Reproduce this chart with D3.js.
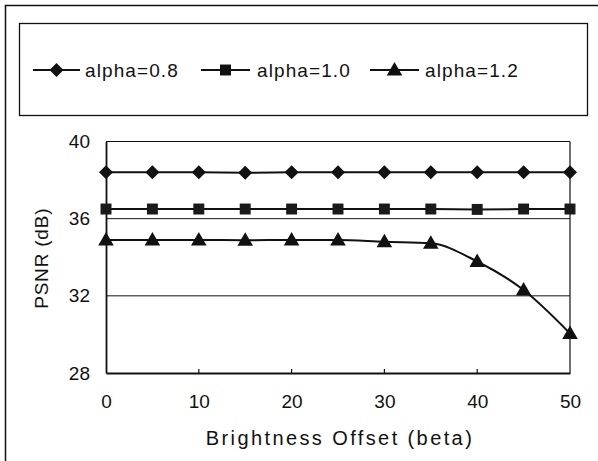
<!DOCTYPE html>
<html><head><meta charset="utf-8">
<script src="https://cdn.jsdelivr.net/npm/d3@7"></script>
<style>
html,body{margin:0;padding:0;background:#fff;}
svg{display:block;}
text{font-family:"Liberation Sans",Arial,sans-serif;fill:#111;}
</style></head>
<body>
<svg id="chart" width="598" height="461"></svg>
<script>
const betaValues = [0,5,10,15,20,25,30,35,40,45,50];
const alpha08 = [38.4,38.4,38.4,38.38,38.4,38.4,38.4,38.4,38.4,38.4,38.4];
const alpha10 = [36.5,36.5,36.5,36.5,36.5,36.5,36.5,36.5,36.48,36.5,36.5];
const alpha12 = [34.9,34.9,34.9,34.88,34.9,34.9,34.8,34.72,33.78,32.3,30.05];
const seriesNames = ["alpha=0.8","alpha=1.0","alpha=1.2"];
const seriesSymbols = ["diamond","square","triangle"];
const yTicks = [28,32,36,40];
const xTickLabels = [0,10,20,30,40,50];
const xMinorTicks = [10,20,30,40];
const yGrid = [32,36];

const svg = d3.select("#chart");
const L = 106, R = 570, T = 141.5, B = 373;
const x = d3.scaleLinear().domain([0,50]).range([L,R]);
const y = d3.scaleLinear().domain([28,40]).range([B,T]);
const FONT = "'Liberation Sans',Arial,sans-serif";

// outer frame (only top and left visible)
svg.append("rect").attr("x",5.5).attr("y",5.5).attr("width",620).attr("height",480)
  .attr("fill","none").attr("stroke","#111").attr("stroke-width",1.5);
// legend box
svg.append("rect").attr("x",19.5).attr("y",23.5).attr("width",568).attr("height",92)
  .attr("fill","none").attr("stroke","#111").attr("stroke-width",1.3);

// gridlines
svg.append("g").selectAll("line").data(yGrid).join("line")
  .attr("x1",L).attr("x2",R).attr("y1",d=>y(d)).attr("y2",d=>y(d))
  .attr("stroke","#111").attr("stroke-width",1);
// plot frame top & right
svg.append("line").attr("x1",L).attr("x2",R).attr("y1",y(40)).attr("y2",y(40)).attr("stroke","#111").attr("stroke-width",1.2);
svg.append("line").attr("x1",R).attr("x2",R).attr("y1",y(40)).attr("y2",y(28)).attr("stroke","#111").attr("stroke-width",1.2);

// axes
const yAxis = d3.axisLeft(y).tickValues(yTicks).tickSize(0).tickPadding(16).tickFormat(d3.format("d"));
const gy = svg.append("g").attr("transform",`translate(${L},0)`).call(yAxis);
gy.select(".domain").attr("stroke","#111").attr("stroke-width",1.8);
gy.selectAll("text").attr("font-size",19).style("font-family",FONT).attr("fill","#111");

const xAxis = d3.axisBottom(x).tickValues(xTickLabels).tickSize(0).tickPadding(22).tickFormat(d3.format("d"));
const gx = svg.append("g").attr("transform",`translate(0,${B})`).call(xAxis);
gx.select(".domain").attr("stroke","#111").attr("stroke-width",1.8);
gx.selectAll("text").attr("font-size",19).style("font-family",FONT).attr("fill","#111");
// minor inward ticks
svg.append("g").selectAll("line").data(xMinorTicks).join("line")
  .attr("x1",d=>x(d)).attr("x2",d=>x(d)).attr("y1",B).attr("y2",B-4)
  .attr("stroke","#111").attr("stroke-width",1.2);

// axis titles
svg.append("text").attr("x",x(25)+2).attr("y",445).attr("text-anchor","middle")
  .attr("font-size",20).attr("letter-spacing",2.4).text("Brightness Offset (beta)");
svg.append("text").attr("transform",`translate(48,${(T+B)/2+1}) rotate(-90)`).attr("text-anchor","middle")
  .attr("font-size",19).attr("letter-spacing",0.8).text("PSNR (dB)");

const symType = {square:d3.symbolSquare, triangle:d3.symbolTriangle};
const symSize = {square:120, triangle:105};
function symPath(s){
  if(s==="diamond") return "M0,-7L7,0L0,7L-7,0Z";
  return d3.symbol().type(symType[s]).size(symSize[s])();
}

const allSeries = [alpha08, alpha10, alpha12];
const curves = [d3.curveLinear, d3.curveLinear, d3.curveMonotoneX];
allSeries.forEach((vals,i)=>{
  const pts = betaValues.map((b,j)=>[b,vals[j]]);
  svg.append("path").datum(pts)
    .attr("d",d3.line().x(d=>x(d[0])).y(d=>y(d[1])).curve(curves[i]))
    .attr("fill","none").attr("stroke","#111").attr("stroke-width",2);
  svg.append("g").selectAll("path").data(pts).join("path")
    .attr("transform",d=>`translate(${x(d[0])},${y(d[1]) + (seriesSymbols[i]==="triangle"?1:0)})`)
    .attr("d",symPath(seriesSymbols[i]))
    .attr("fill",i===1?"#1a1a1a":"#111");
});

// legend
const legendItems = [
  {x1:33,x2:80,tx:85},
  {x1:201,x2:250,tx:257},
  {x1:370,x2:419,tx:425}
];
const ly = 70;
legendItems.forEach((it,i)=>{
  const g = svg.append("g");
  g.append("line").attr("x1",it.x1).attr("x2",it.x2).attr("y1",ly).attr("y2",ly).attr("stroke","#111").attr("stroke-width",2);
  g.append("path").attr("transform",`translate(${(it.x1+it.x2)/2},${ly+(seriesSymbols[i]==="triangle"?1:0)})`)
    .attr("d",symPath(seriesSymbols[i])).attr("fill","#111");
  g.append("text").attr("x",it.tx).attr("y",ly+7).attr("font-size",19).attr("letter-spacing",1.1).text(seriesNames[i]);
});
</script>
</body></html>
